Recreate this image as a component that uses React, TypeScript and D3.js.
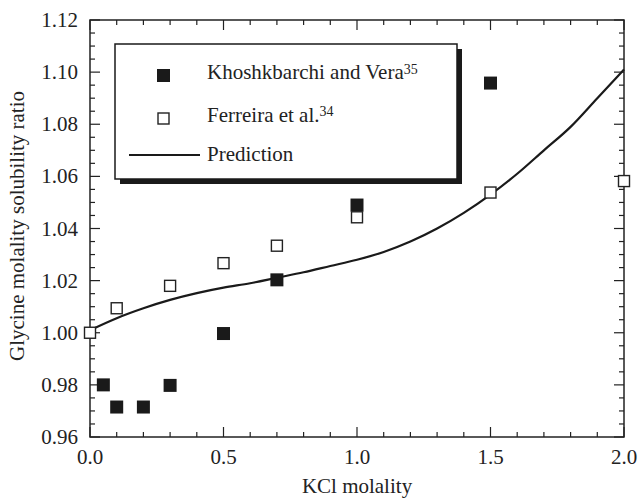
import React from "react";
import * as d3 from "d3";

// Khoshkbarchi and Vera (filled squares)
const khoshX = [0.05, 0.1, 0.2, 0.3, 0.5, 0.7, 1.0, 1.5];
const khoshY = [0.98, 0.9715, 0.9715, 0.9798, 0.9997, 1.0203, 1.049, 1.0958];

// Ferreira et al. (open squares)
const ferrX = [0.0, 0.1, 0.3, 0.5, 0.7, 1.0, 1.5, 2.0];
const ferrY = [1.0, 1.0094, 1.018, 1.0267, 1.0334, 1.0443, 1.0538, 1.0582];

// Prediction curve
const predX = [0, 0.1, 0.2, 0.3, 0.4, 0.5, 0.6, 0.7, 0.8, 0.9, 1.0, 1.1, 1.2, 1.3, 1.4, 1.5, 1.6, 1.7, 1.8, 1.9, 2.0];
const predY = [1.001, 1.0056, 1.0094, 1.0126, 1.0152, 1.0173, 1.019, 1.0211, 1.0232, 1.0256, 1.028, 1.031, 1.035, 1.04, 1.046, 1.053, 1.061, 1.07, 1.079, 1.09, 1.101];

const xTicks = [0, 0.5, 1.0, 1.5, 2.0];
const yTicks = [0.96, 0.98, 1.0, 1.02, 1.04, 1.06, 1.08, 1.1, 1.12];

const W = 640;
const H = 498;
const margin = { left: 90, right: 16, top: 20, bottom: 61 };
const font = "'Liberation Serif', 'Times New Roman', serif";

export default function App() {
  const x = d3.scaleLinear().domain([0, 2]).range([margin.left, W - margin.right]);
  const y = d3.scaleLinear().domain([0.96, 1.12]).range([H - margin.bottom, margin.top]);
  const x0 = x.range()[0], x1 = x.range()[1];
  const y0 = y.range()[0], y1 = y.range()[1];

  const xMinor = d3.range(0, 2.0001, 0.1);
  const yMinor = d3.range(0.96, 1.12001, 0.005);
  const isXMajor = (v: number) => Math.abs(v * 2 - Math.round(v * 2)) < 1e-6;
  const isYMajor = (v: number) => Math.abs(v * 50 - Math.round(v * 50)) < 1e-6;

  const line = d3
    .line<number>()
    .x((_, i) => x(predX[i]))
    .y((d) => y(d))
    .curve(d3.curveMonotoneX);

  const fs = 13; // filled square size
  const os = 11; // open square size

  // legend geometry
  const lg = { x: 115, y: 44, w: 342, h: 135 };

  return (
    <svg width={W} height={H} style={{ position: "absolute", left: 0, top: 0, background: "#fff" }}>
      <rect width={W} height={H} fill="#fff" />
      {/* ticks */}
      {xMinor.map((v, i) => {
        const len = isXMajor(v) ? 10 : 5;
        return (
          <g key={"xt" + i} stroke="#222" strokeWidth={1.2}>
            <line x1={x(v)} x2={x(v)} y1={y0} y2={y0 - len} />
            <line x1={x(v)} x2={x(v)} y1={y1} y2={y1 + len} />
          </g>
        );
      })}
      {yMinor.map((v, i) => {
        const len = isYMajor(v) ? 10 : 5;
        return (
          <g key={"yt" + i} stroke="#222" strokeWidth={1.2}>
            <line x1={x0} x2={x0 + len} y1={y(v)} y2={y(v)} />
            <line x1={x1} x2={x1 - len} y1={y(v)} y2={y(v)} />
          </g>
        );
      })}
      <rect x={x0} y={y1} width={x1 - x0} height={y0 - y1} fill="none" stroke="#222" strokeWidth={1.5} />

      {/* tick labels */}
      {xTicks.map((v) => (
        <text key={"xl" + v} x={x(v)} y={y0 + 27} textAnchor="middle" fontFamily={font} fontSize={21} fill="#222">
          {v.toFixed(1)}
        </text>
      ))}
      {yTicks.map((v) => (
        <text key={"yl" + v} x={x0 - 12} y={y(v) + 7} textAnchor="end" fontFamily={font} fontSize={21} fill="#222">
          {v.toFixed(2)}
        </text>
      ))}
      <text x={(x0 + x1) / 2} y={H - 5} textAnchor="middle" fontFamily={font} fontSize={21} fill="#222">
        KCl molality
      </text>
      <text
        transform={`translate(24,226) rotate(-90)`}
        textAnchor="middle"
        fontFamily={font}
        fontSize={21}
        fill="#222"
      >
        Glycine molality solubility ratio
      </text>

      {/* prediction */}
      <path d={line(predY) || ""} fill="none" stroke="#1a1a1a" strokeWidth={2.2} />

      {/* data */}
      {khoshX.map((v, i) => (
        <rect key={"k" + i} x={x(v) - fs / 2} y={y(khoshY[i]) - fs / 2} width={fs} height={fs} fill="#1a1a1a" />
      ))}
      {ferrX.map((v, i) => (
        <rect
          key={"f" + i}
          x={x(v) - os / 2}
          y={y(ferrY[i]) - os / 2}
          width={os}
          height={os}
          fill="#fff"
          stroke="#222"
          strokeWidth={1.4}
        />
      ))}

      {/* legend */}
      <rect x={lg.x + 5} y={lg.y + 5} width={lg.w} height={lg.h} fill="#1a1a1a" />
      <rect x={lg.x} y={lg.y} width={lg.w} height={lg.h} fill="#fff" stroke="#1a1a1a" strokeWidth={1.5} />
      <rect x={157} y={69} width={13} height={13} fill="#1a1a1a" />
      <rect x={158} y={113} width={11} height={11} fill="#fff" stroke="#222" strokeWidth={1.4} />
      <line x1={129} x2={200} y1={155} y2={155} stroke="#1a1a1a" strokeWidth={2} />
      <g fontFamily={font} fontSize={21} fill="#222">
        <text x={207} y={79}>
          Khoshkbarchi and Vera<tspan fontSize={14} dy={-5}>35</tspan>
        </text>
        <text x={207} y={122}>
          Ferreira et al.<tspan fontSize={14} dy={-6}>34</tspan>
        </text>
        <text x={207} y={161}>Prediction</text>
      </g>
    </svg>
  );
}
